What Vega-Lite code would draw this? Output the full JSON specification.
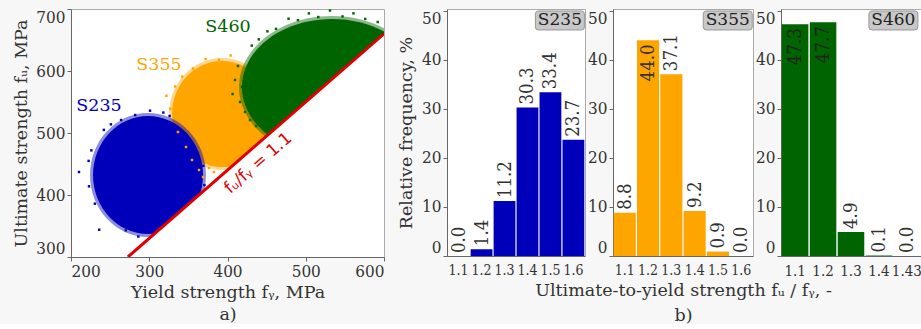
{
  "$schema": "https://vega.github.io/schema/vega-lite/v6.json",
  "background": "#f7f7f7",
  "padding": {"left": 12, "top": 7, "right": 0, "bottom": 0},
  "config": {
    "view": {"stroke": "#aaaaaa", "fill": "white", "strokeWidth": 1},
    "axis": {
      "labelFont": "DejaVu Serif Condensed",
      "titleFont": "DejaVu Serif",
      "labelFontSize": 17, "titleFontSize": 17.5, "titleFontWeight": "normal",
      "labelColor": "#333333", "titleColor": "#333333",
      "domainColor": "#666666", "tickColor": "#666666", "tickSize": 4,
      "labelPadding": 2, "grid": false, "labelFlush": true, "zindex": 1
    }
  },
  "datasets": {
    "clouds": [
      {"grade": "S235", "fy": 298.4, "fu": 432.3},
      {"grade": "S355", "fy": 393.0, "fu": 530.6},
      {"grade": "S460", "fy": 533.5, "fu": 574.2}
    ],
    "dots": [
      {"grade": "S235", "fy": 210.2, "fu": 437.1},
      {"grade": "S235", "fy": 222.5, "fu": 455.0},
      {"grade": "S235", "fy": 223.0, "fu": 414.0},
      {"grade": "S235", "fy": 226.0, "fu": 472.0},
      {"grade": "S235", "fy": 230.5, "fu": 386.0},
      {"grade": "S235", "fy": 242.0, "fu": 505.0},
      {"grade": "S235", "fy": 257.0, "fu": 362.0},
      {"grade": "S235", "fy": 270.0, "fu": 343.0},
      {"grade": "S235", "fy": 286.0, "fu": 333.0},
      {"grade": "S235", "fy": 264.0, "fu": 521.0},
      {"grade": "S235", "fy": 282.0, "fu": 529.0},
      {"grade": "S235", "fy": 301.0, "fu": 536.0},
      {"grade": "S235", "fy": 318.0, "fu": 533.0},
      {"grade": "S235", "fy": 326.0, "fu": 527.5},
      {"grade": "S235", "fy": 369.0, "fu": 447.0},
      {"grade": "S235", "fy": 370.5, "fu": 416.0},
      {"grade": "S235", "fy": 236.0, "fu": 344.0},
      {"grade": "S235", "fy": 251.0, "fu": 514.0},
      {"grade": "S355", "fy": 322.0, "fu": 560.0},
      {"grade": "S355", "fy": 327.0, "fu": 539.0},
      {"grade": "S355", "fy": 333.0, "fu": 575.0},
      {"grade": "S355", "fy": 342.0, "fu": 591.0},
      {"grade": "S355", "fy": 356.0, "fu": 604.0},
      {"grade": "S355", "fy": 372.0, "fu": 619.4},
      {"grade": "S355", "fy": 389.0, "fu": 618.0},
      {"grade": "S355", "fy": 404.0, "fu": 625.0},
      {"grade": "S355", "fy": 336.7, "fu": 501.6},
      {"grade": "S355", "fy": 347.0, "fu": 477.4},
      {"grade": "S355", "fy": 354.6, "fu": 456.5},
      {"grade": "S355", "fy": 363.6, "fu": 440.3},
      {"grade": "S355", "fy": 341.9, "fu": 517.7},
      {"grade": "S355", "fy": 368.7, "fu": 429.0},
      {"grade": "S355", "fy": 376.4, "fu": 443.5},
      {"grade": "S355", "fy": 382.7, "fu": 437.1},
      {"grade": "S460", "fy": 431.0, "fu": 641.0},
      {"grade": "S460", "fy": 440.0, "fu": 651.0},
      {"grade": "S460", "fy": 451.0, "fu": 664.0},
      {"grade": "S460", "fy": 462.0, "fu": 668.0},
      {"grade": "S460", "fy": 478.0, "fu": 684.3},
      {"grade": "S460", "fy": 490.0, "fu": 682.0},
      {"grade": "S460", "fy": 504.0, "fu": 692.9},
      {"grade": "S460", "fy": 516.0, "fu": 687.0},
      {"grade": "S460", "fy": 531.0, "fu": 697.5},
      {"grade": "S460", "fy": 547.0, "fu": 688.0},
      {"grade": "S460", "fy": 561.0, "fu": 693.0},
      {"grade": "S460", "fy": 576.0, "fu": 684.0},
      {"grade": "S460", "fy": 592.0, "fu": 679.0},
      {"grade": "S460", "fy": 413.4, "fu": 608.1},
      {"grade": "S460", "fy": 409.6, "fu": 585.5},
      {"grade": "S460", "fy": 406.5, "fu": 562.9},
      {"grade": "S460", "fy": 416.0, "fu": 550.0},
      {"grade": "S460", "fy": 422.4, "fu": 533.9},
      {"grade": "S460", "fy": 428.8, "fu": 521.0},
      {"grade": "S460", "fy": 436.4, "fu": 511.3},
      {"grade": "S460", "fy": 418.5, "fu": 574.2}
    ],
    "limit": [
      {"fy": 272.73, "fu": 300},
      {"fy": 600, "fu": 660}
    ],
    "gradeLabels": [
      {"grade": "S235", "fy": 235.8, "fu": 543.5},
      {"grade": "S355", "fy": 312.5, "fu": 609.7},
      {"grade": "S460", "fy": 400.6, "fu": 671.0}
    ],
    "boxes": [
      {"grade": "S235", "ratio": "1.6", "anchor": 48.06},
      {"grade": "S355", "ratio": "1.6", "anchor": 48.06},
      {"grade": "S460", "ratio": "1.43", "anchor": 48.06}
    ],
    "hist": [
      {"grade": "S235", "ratio": "1.1", "pct": 0.0},
      {"grade": "S235", "ratio": "1.2", "pct": 1.4},
      {"grade": "S235", "ratio": "1.3", "pct": 11.2},
      {"grade": "S235", "ratio": "1.4", "pct": 30.3},
      {"grade": "S235", "ratio": "1.5", "pct": 33.4},
      {"grade": "S235", "ratio": "1.6", "pct": 23.7},
      {"grade": "S355", "ratio": "1.1", "pct": 8.8},
      {"grade": "S355", "ratio": "1.2", "pct": 44.0},
      {"grade": "S355", "ratio": "1.3", "pct": 37.1},
      {"grade": "S355", "ratio": "1.4", "pct": 9.2},
      {"grade": "S355", "ratio": "1.5", "pct": 0.9},
      {"grade": "S355", "ratio": "1.6", "pct": 0.0},
      {"grade": "S460", "ratio": "1.1", "pct": 47.3},
      {"grade": "S460", "ratio": "1.2", "pct": 47.7},
      {"grade": "S460", "ratio": "1.3", "pct": 4.9},
      {"grade": "S460", "ratio": "1.4", "pct": 0.1},
      {"grade": "S460", "ratio": "1.43", "pct": 0.0}
    ]
  },
  "spacing": 63,
  "bounds": "flush",
  "hconcat": [
    {
      "width": 313,
      "height": 248,
      "encoding": {
        "x": {"field": "fy", "type": "quantitative",
              "scale": {"domain": [200, 600], "nice": false, "zero": false},
              "axis": {"values": [200, 300, 400, 500, 600], "title": ["Yield strength fᵧ, MPa", "a)"], "titlePadding": 4, "titleLineHeight": 22}},
        "y": {"field": "fu", "type": "quantitative",
              "scale": {"domain": [300, 700], "nice": false, "zero": false},
              "axis": {"values": [300, 400, 500, 600, 700], "title": "Ultimate strength fᵤ, MPa", "titlePadding": 5}}
      },
      "layer": [
        {"data": {"name": "clouds"}, "transform": [{"filter": "datum.grade === 'S355'"}],
         "mark": {"type": "point", "filled": true, "opacity": 0.45, "color": "#ffa500", "size": 12544, "clip": true,
                  "shape": "M -0.946 0 A 0.946 1 0 1 0 0.946 0 A 0.946 1 0 1 0 -0.946 0 Z"}},
        {"data": {"name": "clouds"}, "transform": [{"filter": "datum.grade === 'S355'"}],
         "mark": {"type": "point", "filled": true, "opacity": 1, "color": "#ffa500", "size": 11236, "clip": true,
                  "shape": "M -0.943 0 A 0.943 1 0 1 0 0.943 0 A 0.943 1 0 1 0 -0.943 0 Z"}},
        {"data": {"name": "clouds"}, "transform": [{"filter": "datum.grade === 'S235'"}],
         "mark": {"type": "point", "filled": true, "opacity": 0.45, "color": "#0000bb", "size": 15376, "clip": true,
                  "shape": "M -0.935 0 A 0.935 1 0 1 0 0.935 0 A 0.935 1 0 1 0 -0.935 0 Z"}},
        {"data": {"name": "clouds"}, "transform": [{"filter": "datum.grade === 'S235'"}],
         "mark": {"type": "point", "filled": true, "opacity": 1, "color": "#0000bb", "size": 13924, "clip": true,
                  "shape": "M -0.932 0 A 0.932 1 0 1 0 0.932 0 A 0.932 1 0 1 0 -0.932 0 Z"}},
        {"data": {"name": "clouds"}, "transform": [{"filter": "datum.grade === 'S460'"}],
         "mark": {"type": "point", "filled": true, "opacity": 0.45, "color": "#006400", "size": 34596, "clip": true,
                  "shape": "M -1 0 A 1 0.763 0 1 0 1 0 A 1 0.763 0 1 0 -1 0 Z"}},
        {"data": {"name": "clouds"}, "transform": [{"filter": "datum.grade === 'S460'"}],
         "mark": {"type": "point", "filled": true, "opacity": 1, "color": "#006400", "size": 32400, "clip": true,
                  "shape": "M -1 0 A 1 0.756 0 1 0 1 0 A 1 0.756 0 1 0 -1 0 Z"}},
        {"data": {"name": "dots"},
         "mark": {"type": "square", "size": 6, "opacity": 1, "clip": true},
         "encoding": {"color": {"field": "grade", "type": "nominal", "legend": null,
                                "scale": {"domain": ["S235", "S355", "S460"], "range": ["#0000bb", "#ffa500", "#006400"]}}}},
        {"data": {"name": "limit"},
         "mark": {"type": "area", "color": "white", "opacity": 1, "clip": true},
         "encoding": {"y2": {"datum": 300}}},
        {"data": {"name": "limit"},
         "mark": {"type": "line", "color": "#e00000", "strokeWidth": 3, "clip": true},
         "encoding": {}},
        {"data": {"values": [{"fy": 426.7, "fu": 469.4}]},
         "mark": {"type": "text", "text": "fᵤ/fᵧ = 1.1", "angle": 318.9, "align": "center", "baseline": "middle", "dy": 15,
                  "font": "DejaVu Sans", "fontSize": 17, "color": "#e00000"},
         "encoding": {}},
        {"data": {"name": "gradeLabels"},
         "mark": {"type": "text", "fontSize": 17.5, "font": "DejaVu Serif"},
         "encoding": {"text": {"field": "grade"},
                      "color": {"field": "grade", "type": "nominal", "legend": null,
                                "scale": {"domain": ["S235", "S355", "S460"], "range": ["#0000bb", "#ffa500", "#006400"]}}}}
      ]
    },
    {
      "spacing": 28,
      "bounds": "flush",
      "hconcat": [
        {
          "width": 138, "height": 247,
          "encoding": {
            "x": {"field": "ratio", "type": "ordinal", "sort": null,
                  "scale": {"paddingInner": 0.05, "paddingOuter": 0.03},
                  "axis": {"title": null, "labelAngle": 0, "ticks": false, "labelPadding": 7, "labelFontSize": 14, "labelFlush": false}},
            "y": {"field": "pct", "type": "quantitative",
                  "scale": {"domain": [0, 50.4], "nice": false},
                  "axis": {"values": [0, 10, 20, 30, 40, 50], "title": "Relative frequency, %", "titlePadding": 6, "labelFlush": 5}}
          },
          "layer": [
            {"data": {"name": "hist"}, "transform": [{"filter": "datum.grade === 'S235'"}],
             "mark": {"type": "bar", "color": "#0000bb"}},
            {"data": {"name": "hist"}, "transform": [{"filter": "datum.grade === 'S235' && datum.pct < 40"}],
             "mark": {"type": "text", "angle": 270, "align": "left", "baseline": "middle", "dx": 3, "fontSize": 18.5, "color": "#333333", "font": "DejaVu Serif Condensed"},
             "encoding": {"text": {"field": "pct", "type": "quantitative", "format": ".1f"}}},
            {"data": {"name": "boxes"}, "transform": [{"filter": "datum.grade === 'S235'"}],
             "mark": {"type": "point", "filled": true, "opacity": 1, "fill": "#c8c8c8", "stroke": "#999999", "strokeWidth": 1, "size": 400,
                      "shape": "M -3.5 -0.95 L 0.8 -0.95 Q 1.1 -0.95 1.1 -0.65 L 1.1 0.65 Q 1.1 0.95 0.8 0.95 L -3.5 0.95 Q -3.8 0.95 -3.8 0.65 L -3.8 -0.65 Q -3.8 -0.95 -3.5 -0.95 Z"},
             "encoding": {"y": {"field": "anchor", "type": "quantitative"}}},
            {"data": {"name": "boxes"}, "transform": [{"filter": "datum.grade === 'S235'"}],
             "mark": {"type": "text", "dx": -13.5, "align": "center", "baseline": "middle", "fontSize": 17, "color": "#222222", "font": "DejaVu Serif"},
             "encoding": {"y": {"field": "anchor", "type": "quantitative"}, "text": {"field": "grade"}}}
          ]
        },
        {
          "width": 140, "height": 247,
          "encoding": {
            "x": {"field": "ratio", "type": "ordinal", "sort": null,
                  "scale": {"paddingInner": 0.05, "paddingOuter": 0.03},
                  "axis": {"title": ["Ultimate-to-yield strength fᵤ / fᵧ, -", "b)"], "titlePadding": 4, "titleLineHeight": 25,
                           "labelAngle": 0, "ticks": false, "labelPadding": 7, "labelFontSize": 14, "labelFlush": false}},
            "y": {"field": "pct", "type": "quantitative",
                  "scale": {"domain": [0, 50.4], "nice": false},
                  "axis": {"values": [0, 10, 20, 30, 40, 50], "title": null, "labelFlush": 5}}
          },
          "layer": [
            {"data": {"name": "hist"}, "transform": [{"filter": "datum.grade === 'S355'"}],
             "mark": {"type": "bar", "color": "#ffa500"}},
            {"data": {"name": "hist"}, "transform": [{"filter": "datum.grade === 'S355' && datum.pct < 40"}],
             "mark": {"type": "text", "angle": 270, "align": "left", "baseline": "middle", "dx": 3, "fontSize": 18.5, "color": "#333333", "font": "DejaVu Serif Condensed"},
             "encoding": {"text": {"field": "pct", "type": "quantitative", "format": ".1f"}}},
            {"data": {"name": "hist"}, "transform": [{"filter": "datum.grade === 'S355' && datum.pct >= 40"}],
             "mark": {"type": "text", "angle": 270, "align": "right", "baseline": "middle", "dx": -4, "fontSize": 18.5, "color": "#333333", "font": "DejaVu Serif Condensed"},
             "encoding": {"text": {"field": "pct", "type": "quantitative", "format": ".1f"}}},
            {"data": {"name": "boxes"}, "transform": [{"filter": "datum.grade === 'S355'"}],
             "mark": {"type": "point", "filled": true, "opacity": 1, "fill": "#c8c8c8", "stroke": "#999999", "strokeWidth": 1, "size": 400,
                      "shape": "M -3.5 -0.95 L 0.8 -0.95 Q 1.1 -0.95 1.1 -0.65 L 1.1 0.65 Q 1.1 0.95 0.8 0.95 L -3.5 0.95 Q -3.8 0.95 -3.8 0.65 L -3.8 -0.65 Q -3.8 -0.95 -3.5 -0.95 Z"},
             "encoding": {"y": {"field": "anchor", "type": "quantitative"}}},
            {"data": {"name": "boxes"}, "transform": [{"filter": "datum.grade === 'S355'"}],
             "mark": {"type": "text", "dx": -13.5, "align": "center", "baseline": "middle", "fontSize": 17, "color": "#222222", "font": "DejaVu Serif"},
             "encoding": {"y": {"field": "anchor", "type": "quantitative"}, "text": {"field": "grade"}}}
          ]
        },
        {
          "width": 140, "height": 247,
          "encoding": {
            "x": {"field": "ratio", "type": "ordinal", "sort": null,
                  "scale": {"paddingInner": 0.05, "paddingOuter": 0.03},
                  "axis": {"title": null, "labelAngle": 0, "ticks": false, "labelPadding": 7, "labelFontSize": 15, "labelFlush": false}},
            "y": {"field": "pct", "type": "quantitative",
                  "scale": {"domain": [0, 50.4], "nice": false},
                  "axis": {"values": [0, 10, 20, 30, 40, 50], "title": null, "labelFlush": 5}}
          },
          "layer": [
            {"data": {"name": "hist"}, "transform": [{"filter": "datum.grade === 'S460'"}],
             "mark": {"type": "bar", "color": "#006400"}},
            {"data": {"name": "hist"}, "transform": [{"filter": "datum.grade === 'S460' && datum.pct < 40"}],
             "mark": {"type": "text", "angle": 270, "align": "left", "baseline": "middle", "dx": 3, "fontSize": 18.5, "color": "#333333", "font": "DejaVu Serif Condensed"},
             "encoding": {"text": {"field": "pct", "type": "quantitative", "format": ".1f"}}},
            {"data": {"name": "hist"}, "transform": [{"filter": "datum.grade === 'S460' && datum.pct >= 40"}],
             "mark": {"type": "text", "angle": 270, "align": "right", "baseline": "middle", "dx": -4, "fontSize": 18.5, "color": "#222222", "font": "DejaVu Serif Condensed"},
             "encoding": {"text": {"field": "pct", "type": "quantitative", "format": ".1f"}}},
            {"data": {"name": "boxes"}, "transform": [{"filter": "datum.grade === 'S460'"}],
             "mark": {"type": "point", "filled": true, "opacity": 1, "fill": "#c8c8c8", "stroke": "#999999", "strokeWidth": 1, "size": 400,
                      "shape": "M -3.5 -0.95 L 0.8 -0.95 Q 1.1 -0.95 1.1 -0.65 L 1.1 0.65 Q 1.1 0.95 0.8 0.95 L -3.5 0.95 Q -3.8 0.95 -3.8 0.65 L -3.8 -0.65 Q -3.8 -0.95 -3.5 -0.95 Z"},
             "encoding": {"y": {"field": "anchor", "type": "quantitative"}}},
            {"data": {"name": "boxes"}, "transform": [{"filter": "datum.grade === 'S460'"}],
             "mark": {"type": "text", "dx": -13.5, "align": "center", "baseline": "middle", "fontSize": 17, "color": "#222222", "font": "DejaVu Serif"},
             "encoding": {"y": {"field": "anchor", "type": "quantitative"}, "text": {"field": "grade"}}}
          ]
        }
      ]
    }
  ]
}
